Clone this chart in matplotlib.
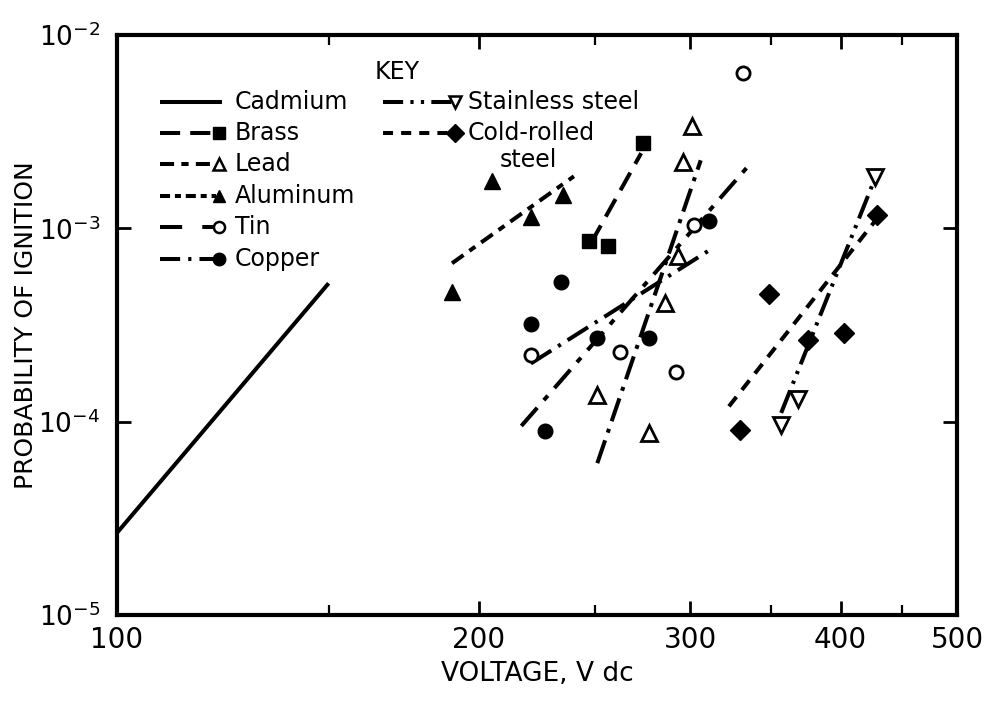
import numpy as np
import matplotlib
matplotlib.use('Agg')
import matplotlib.pyplot as plt
from matplotlib.ticker import FixedLocator, NullFormatter

plt.rcParams['font.family'] = ['DejaVu Sans']

# measured points (voltage V dc, probability of ignition)
brass_v = [247, 256, 274]
brass_p = [8.6e-4, 8.1e-4, 2.75e-3]
lead_v = [251, 277, 286, 293, 296, 301]
lead_p = [1.38e-4, 8.7e-5, 4.1e-4, 7.2e-4, 2.2e-3, 3.4e-3]
alum_v = [190, 205, 221, 235]
alum_p = [4.7e-4, 1.75e-3, 1.15e-3, 1.48e-3]
tin_v = [221, 262, 292, 302, 332]
tin_p = [2.22e-4, 2.28e-4, 1.8e-4, 1.04e-3, 6.4e-3]
copper_v = [221, 227, 234, 251, 277, 311]
copper_p = [3.2e-4, 9.0e-5, 5.3e-4, 2.72e-4, 2.72e-4, 1.09e-3]
stain_v = [357, 369, 427]
stain_p = [9.6e-5, 1.31e-4, 1.84e-3]
cold_v = [330, 349, 376, 403, 429]
cold_p = [9.1e-5, 4.55e-4, 2.63e-4, 2.86e-4, 1.17e-3]

# fitted lines (end points)
cadmium_fit_v = [100, 150]
cadmium_fit_p = [2.66e-5, 5.2e-4]
brass_fit_v = [248, 273]
brass_fit_p = [8.4e-4, 2.45e-3]
lead_fit_v = [251, 306]
lead_fit_p = [6.1e-5, 2.25e-3]
alum_fit_v = [190, 240]
alum_fit_p = [6.6e-4, 1.86e-3]
tin_fit_v = [217, 334]
tin_fit_p = [9.5e-5, 2.05e-3]
copper_fit_v = [221, 311]
copper_fit_p = [2.0e-4, 7.7e-4]
stain_fit_v = [357, 426]
stain_fit_p = [1.11e-4, 1.73e-3]
cold_fit_v = [323, 433]
cold_fit_p = [1.2e-4, 1.21e-3]

fig = plt.figure(figsize=(9.95, 7.02), dpi=100)
ax = fig.add_axes([0.1176, 0.124, 0.8442, 0.826])
ax.set_xscale('log')
ax.set_yscale('log')
ax.set_xlim(100, 500)
ax.set_ylim(1e-5, 1e-2)

lw = 2.9
ms = 10.5
k = 'black'

ax.plot(cadmium_fit_v, cadmium_fit_p, color=k, lw=lw, solid_capstyle='butt')
ax.plot(brass_fit_v, brass_fit_p, color=k, lw=lw, dashes=(5, 2.5))
ax.plot(lead_fit_v, lead_fit_p, color=k, lw=lw, dashes=(6, 2, 1, 2))
ax.plot(alum_fit_v, alum_fit_p, color=k, lw=lw, dashes=(3.5, 1.8, 1.8, 1.8))
ax.plot(tin_fit_v, tin_fit_p, color=k, lw=lw, dashes=(6, 2.5, 1.5, 2.5))
ax.plot(copper_fit_v, copper_fit_p, color=k, lw=lw, dashes=(6, 2, 0.8, 2))
ax.plot(stain_fit_v, stain_fit_p, color=k, lw=lw, dashes=(6, 1.8, 0.8, 1.8, 0.8, 1.8))
ax.plot(cold_fit_v, cold_fit_p, color=k, lw=lw, dashes=(3, 2.2))

ax.plot(brass_v, brass_p, 's', color=k, ms=ms)
ax.plot(lead_v, lead_p, '^', mfc='white', mec=k, mew=2, ms=ms + 1)
ax.plot(alum_v, alum_p, '^', color=k, ms=ms + 1)
ax.plot(tin_v, tin_p, 'o', mfc='white', mec=k, mew=2, ms=ms - 1)
ax.plot(copper_v, copper_p, 'o', color=k, ms=ms)
ax.plot(stain_v, stain_p, 'v', mfc='white', mec=k, mew=2, ms=ms + 1)
ax.plot(cold_v, cold_p, 'D', color=k, ms=ms - 0.5)

# key
def ax_x(px):
    return (px - 117) / 840

def ax_y(py):
    return (615 - py) / 580

key_rows = [
    ('Cadmium', None, {}, 102, 160, 222),
    ('Brass', 's', dict(dashes=(5, 2.5)), 133, 160, 216),
    ('Lead', '^o', dict(dashes=(3.5, 1.8, 1.8, 1.8)), 164, 160, 216),
    ('Aluminum', '^', dict(dashes=(2.5, 1.2, 1.5, 1.2)), 196, 160, 216),
    ('Tin', 'oo', dict(dashes=(5.5, 5)), 227, 160, 216),
    ('Copper', 'o', dict(dashes=(5, 2, 0.8, 2)), 259, 160, 216),
    ('Stainless steel', 'vo', dict(dashes=(5, 1.8, 0.8, 1.8, 0.8, 1.8)), 102, 383, 452),
    ('Cold-rolled', 'D', dict(dashes=(2.5, 2)), 133, 383, 452),
]
for label, mk, style, py, x0, x1 in key_rows:
    y = ax_y(py)
    ax.plot([ax_x(x0), ax_x(x1)], [y, y], color=k, lw=lw, transform=ax.transAxes,
            solid_capstyle='butt', **style)
    if mk:
        if mk.endswith('o') and len(mk) == 2:
            ax.plot(ax_x(x1 + 3), y, mk[0], mfc='white', mec=k, mew=1.8,
                    ms=8, transform=ax.transAxes)
        else:
            ax.plot(ax_x(x1 + 3), y, mk, color=k, ms=9, transform=ax.transAxes)
    tx = 235 if x0 == 160 else 468
    ax.text(ax_x(tx), y, label, transform=ax.transAxes, fontsize=17,
            va='center', ha='left')
ax.text(ax_x(500), ax_y(160), 'steel', transform=ax.transAxes, fontsize=17,
        va='center', ha='left')
ax.text(ax_x(375), ax_y(72), 'KEY', transform=ax.transAxes, fontsize=17,
        va='center', ha='left')

# axes styling
for s in ax.spines.values():
    s.set_linewidth(3)

ax.xaxis.set_major_locator(FixedLocator([100, 200, 300, 400, 500]))
ax.xaxis.set_minor_locator(FixedLocator([150, 250, 350, 450]))
ax.set_xticklabels(['100', '200', '300', '400', '500'])
ax.xaxis.set_minor_formatter(NullFormatter())
ax.yaxis.set_major_locator(FixedLocator([1e-5, 1e-4, 1e-3, 1e-2]))
ax.yaxis.set_minor_locator(FixedLocator([]))
ax.set_yticklabels([r'10$^{\mathregular{-5}}$', r'10$^{\mathregular{-4}}$',
                    r'10$^{\mathregular{-3}}$', r'10$^{\mathregular{-2}}$'])
ax.tick_params(which='major', direction='in', length=10, width=2,
               top=True, right=True, labelsize=20)
ax.tick_params(which='minor', direction='in', length=7, width=1.6,
               top=True, right=True)
ax.tick_params(axis='x', which='major', pad=8)
ax.tick_params(axis='y', which='major', pad=12, labelsize=19)

ax.set_xlabel('VOLTAGE, V dc', fontsize=19, labelpad=5)
ax.set_ylabel('PROBABILITY OF IGNITION', fontsize=18)
ax.yaxis.set_label_coords(-0.094, 0.5)

fig.savefig('out.png', dpi=100)
